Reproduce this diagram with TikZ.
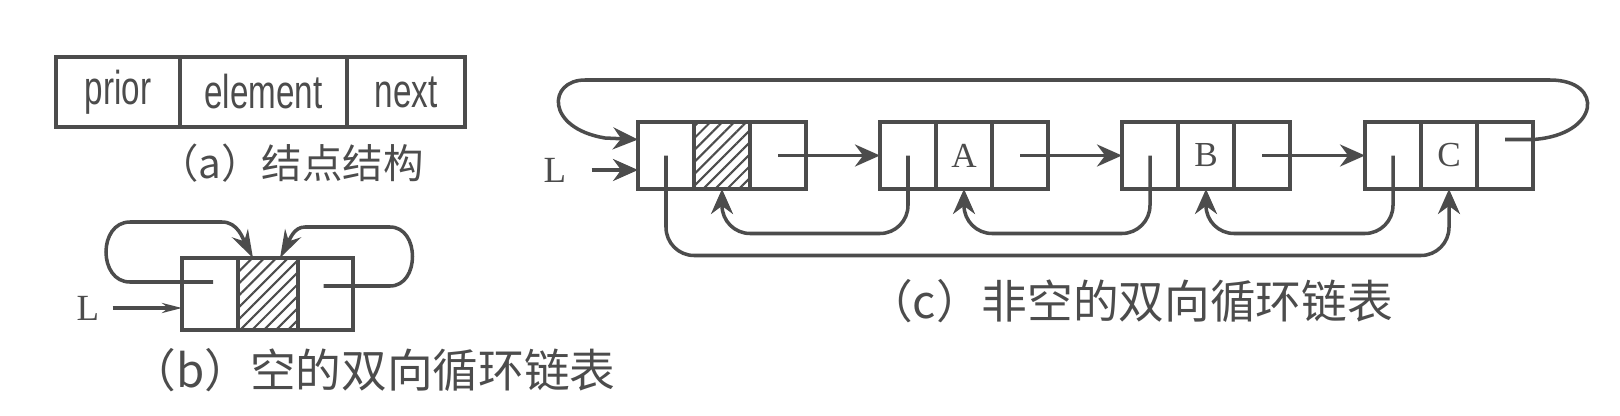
\documentclass[tikz,border=0pt]{standalone}
\usepackage{fontspec}
\usepackage{graphicx}
\setmainfont{Liberation Serif}
\newfontfamily\cjk{Noto Sans CJK SC}
\newfontfamily\fieldfont{Liberation Sans}
\usetikzlibrary{arrows.meta,patterns.meta,calc}
\definecolor{ink}{gray}{0.3}
\newcommand{\fieldname}[1]{\scalebox{0.7}[1]{\fieldfont\fontsize{13.5}{15}\selectfont #1}}

\begin{document}
\begin{tikzpicture}[x=0.1mm,y=-0.1mm,line width=1pt,
  every node/.style={text=ink},
  cell/.style={draw=ink,minimum width=5.6mm,minimum height=6.7mm,inner sep=0pt,outer sep=0pt,font=\fontsize{10}{12}\selectfont},
  hatched/.style={pattern={Lines[angle=45,distance=2.4pt,line width=0.6pt]},pattern color=ink},
  ptr/.style={draw=ink,-{Stealth[length=2.5mm,width=2.2mm]}},
  loopptr/.style={draw=ink,-{Stealth[length=2.8mm,width=1.8mm]}},
  caption/.style={font=\cjk\fontsize{13}{15}\selectfont}]
\useasboundingbox (0,0) rectangle (1620,415);
\node[cell,minimum width=12.4mm,minimum height=7mm] (pri) at (118,92) {\fieldname{prior}};
\node[cell,minimum width=16.7mm,minimum height=7mm] (ele) at (263.5,92) {\fieldname{element}};
\node[cell,minimum width=11.8mm,minimum height=7mm] (nxt) at (406,92) {\fieldname{next}};
\node[caption,font=\cjk\fontsize{11.5}{14}\selectfont] (capa) at (291,163) {（a）结点结构};
\node[cell,minimum height=7.2mm] (bp) at (210,294) {};
\node[cell,hatched,minimum width=6mm,minimum height=7.2mm] (be) at (268,294) {};
\node[cell,minimum width=5.5mm,minimum height=7.2mm] (bn) at (325.5,294) {};
\node[font=\fontsize{10.5}{12}\selectfont] (Lb) at (88,308) {L};
\draw[draw=ink,-{Stealth[length=2mm,width=1mm]}] (Lb.east) -- (Lb.east -| bp.west);
\draw[loopptr] ($(bp.center)+(3,-12)$) -- (130,282) .. controls (98,282) and (98,222) .. (130,222) -- (222,222) .. controls (238,222) and (243,239) .. ($(be.north west)+(15,0)$);
\draw[loopptr] ($(bn.center)+(-2,-8)$) -- (390,286) .. controls (420,286) and (420,227) .. (390,227) -- (305,227) .. controls (294,227) and (290,239) .. ($(be.north east)+(-18,0)$);
\node[caption] (capb) at (373,370) {（b）空的双向循环链表};
\node[cell] (p0) at (666,155.5) {};
\node[cell,hatched] (e0) at (722,155.5) {};
\node[cell] (n0) at (778,155.5) {};
\node[cell] (p1) at (908,155.5) {};
\node[cell] (e1) at (964,155.5) {A};
\node[cell] (n1) at (1020,155.5) {};
\node[cell] (p2) at (1150,155.5) {};
\node[cell] (e2) at (1206,155.5) {B};
\node[cell] (n2) at (1262,155.5) {};
\node[cell] (p3) at (1393,155.5) {};
\node[cell] (e3) at (1449,155.5) {C};
\node[cell] (n3) at (1505,155.5) {};
\node[font=\fontsize{10.5}{12}\selectfont] (Lc) at (555,170) {L};
\draw[ptr,shorten <=1.2mm] (Lc.east) -- (Lc.east -| p0.west);
\draw[ptr] (n0.center) -- (n0.center -| p1.west);
\draw[ptr] (n1.center) -- (n1.center -| p2.west);
\draw[ptr] (n2.center) -- (n2.center -| p3.west);
\draw[ptr] ($(n3.center)+(0,-16)$) -- ($(n3.east)+(0,-16)$) .. controls (1600,135) and (1605,80) .. (1550,80) -- (585,80) .. controls (548,80) and (545,128) .. (605,138) -- ($(p0.west)+(0,-16)$);
\draw[ptr,rounded corners=8] (p1.center) -- ++(0,78) -| (e0.south);
\draw[ptr,rounded corners=8] (p2.center) -- ++(0,78) -| (e1.south);
\draw[ptr,rounded corners=8] (p3.center) -- ++(0,78) -| (e2.south);
\draw[ptr,rounded corners=8] (p0.center) -- ++(0,100) -| (e3.south);
\node[caption] (capc) at (1130,301) {（c）非空的双向循环链表};
\end{tikzpicture}
\end{document}
